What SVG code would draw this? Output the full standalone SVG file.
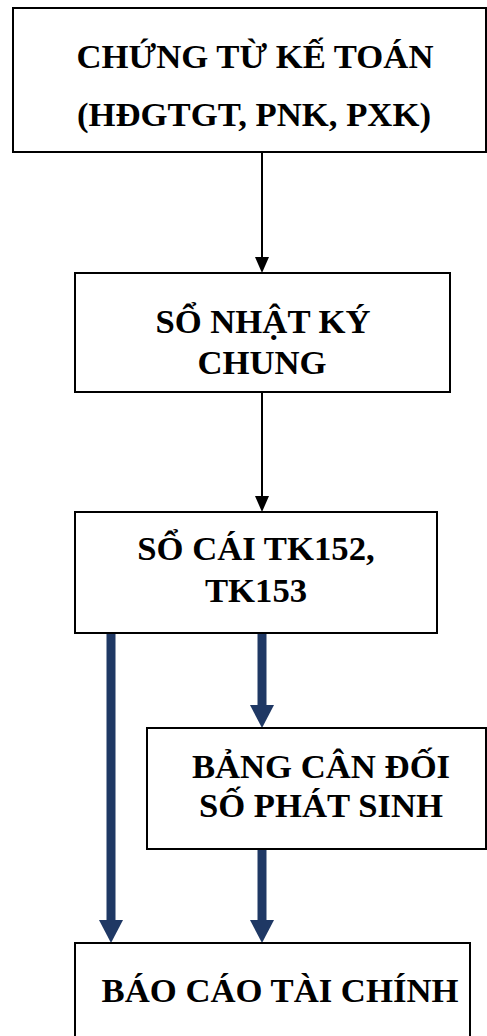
<svg xmlns="http://www.w3.org/2000/svg" width="487" height="1036" viewBox="0 0 487 1036">
  <style>
    .box { fill: #ffffff; stroke: #000000; stroke-width: 2; }
    .lbl { font-family: "Liberation Serif", "Times New Roman", serif; font-weight: bold; font-size: 34.7px; fill: #000000; text-anchor: middle; }
    .thin { stroke: #000000; stroke-width: 2; fill: none; }
    .thick { stroke: #1F3864; stroke-width: 9; fill: none; }
    .headThin { fill: #000000; }
    .headThick { fill: #1F3864; }
  </style>
  <rect width="487" height="1036" fill="#ffffff"/>

  <g id="connectors">
    <!-- thin black flow arrows -->
    <line class="thin" x1="262" y1="152" x2="262" y2="260"/>
    <path class="headThin" d="M255,257 L269,257 L262,273 z"/>
    <line class="thin" x1="262" y1="392" x2="262" y2="499"/>
    <path class="headThin" d="M255,496 L269,496 L262,512 z"/>
    <!-- thick navy arrows from the ledger -->
    <line class="thick" x1="111" y1="633" x2="111" y2="922"/>
    <path class="headThick" d="M99,920 L123,920 L111,943 z"/>
    <line class="thick" x1="262" y1="633" x2="262" y2="707"/>
    <path class="headThick" d="M250,705 L274,705 L262,728 z"/>
    <line class="thick" x1="262" y1="849" x2="262" y2="922"/>
    <path class="headThick" d="M250,920 L274,920 L262,943 z"/>
  </g>

  <g id="chung-tu">
    <rect class="box" x="13" y="8" width="473" height="144"/>
    <text class="lbl" x="255" y="68">CHỨNG TỪ KẾ TOÁN</text>
    <text class="lbl" x="254" y="126">(HĐGTGT, PNK, PXK)</text>
  </g>

  <g id="nhat-ky-chung">
    <rect class="box" x="75" y="273" width="375" height="119"/>
    <text class="lbl" x="263" y="333">SỔ NHẬT KÝ</text>
    <text class="lbl" x="262" y="374">CHUNG</text>
  </g>

  <g id="so-cai">
    <rect class="box" x="75" y="512" width="362" height="121"/>
    <text class="lbl" x="256" y="560">SỔ CÁI TK152,</text>
    <text class="lbl" x="256" y="602">TK153</text>
  </g>

  <g id="can-doi">
    <rect class="box" x="147" y="728" width="339" height="121"/>
    <text class="lbl" x="321" y="778">BẢNG CÂN ĐỐI</text>
    <text class="lbl" x="321" y="817">SỐ PHÁT SINH</text>
  </g>

  <g id="bao-cao">
    <rect class="box" x="75" y="943" width="395" height="100"/>
    <text class="lbl" x="280" y="1002">BÁO CÁO TÀI CHÍNH</text>
  </g>
</svg>
